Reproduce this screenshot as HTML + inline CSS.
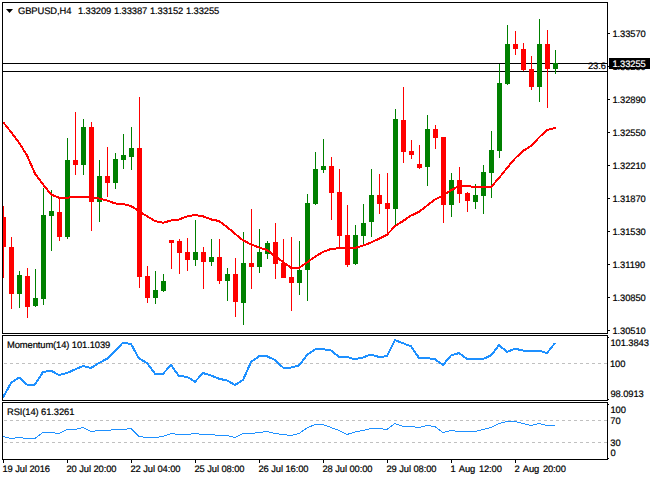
<!DOCTYPE html>
<html><head><meta charset="utf-8"><title>GBPUSD H4</title>
<style>
html,body{margin:0;padding:0;background:#fff;}
body{width:650px;height:480px;position:relative;overflow:hidden;font-family:"Liberation Sans",sans-serif;}
svg{position:absolute;left:0;top:0;}
.t{position:absolute;font-family:"Liberation Sans",sans-serif;font-size:9.4px;line-height:12px;white-space:pre;letter-spacing:-0.1px;text-rendering:geometricPrecision;-webkit-text-stroke:0.2px currentColor;}
</style></head><body>
<svg width="650" height="480" viewBox="0 0 650 480">
<line x1="4" x2="607" y1="363.5" y2="363.5" stroke="#c0c0c0" stroke-width="1" stroke-dasharray="3 3" shape-rendering="crispEdges"/>
<line x1="4" x2="607" y1="420.5" y2="420.5" stroke="#c0c0c0" stroke-width="1" stroke-dasharray="3 3" shape-rendering="crispEdges"/>
<line x1="4" x2="607" y1="442.5" y2="442.5" stroke="#c0c0c0" stroke-width="1" stroke-dasharray="3 3" shape-rendering="crispEdges"/>
<g shape-rendering="crispEdges" fill="#000">
<rect x="3" y="63" width="605" height="1"/>
<rect x="3" y="71" width="605" height="1"/>
</g>
<defs><clipPath id="c"><rect x="3" y="3" width="604" height="330"/></clipPath></defs>
<g shape-rendering="crispEdges" clip-path="url(#c)">
<rect x="3" y="206" width="1" height="72" fill="#ff0000"/>
<rect x="1" y="217" width="5" height="30" fill="#ff0000"/>
<rect x="11" y="237" width="1" height="72" fill="#ff0000"/>
<rect x="9" y="247" width="5" height="47" fill="#ff0000"/>
<rect x="19" y="271" width="1" height="37" fill="#008000"/>
<rect x="17" y="275" width="5" height="19" fill="#008000"/>
<rect x="27" y="268" width="1" height="50" fill="#ff0000"/>
<rect x="25" y="276" width="5" height="31" fill="#ff0000"/>
<rect x="35" y="269" width="1" height="38" fill="#008000"/>
<rect x="33" y="298" width="5" height="8" fill="#008000"/>
<rect x="43" y="188" width="1" height="117" fill="#008000"/>
<rect x="41" y="215" width="5" height="84" fill="#008000"/>
<rect x="51" y="190" width="1" height="61" fill="#008000"/>
<rect x="49" y="211" width="5" height="5" fill="#008000"/>
<rect x="59" y="198" width="1" height="43" fill="#ff0000"/>
<rect x="57" y="212" width="5" height="25" fill="#ff0000"/>
<rect x="67" y="138" width="1" height="101" fill="#008000"/>
<rect x="65" y="160" width="5" height="77" fill="#008000"/>
<rect x="75" y="112" width="1" height="63" fill="#ff0000"/>
<rect x="73" y="160" width="5" height="5" fill="#ff0000"/>
<rect x="83" y="119" width="1" height="56" fill="#008000"/>
<rect x="81" y="127" width="5" height="38" fill="#008000"/>
<rect x="91" y="122" width="1" height="109" fill="#ff0000"/>
<rect x="89" y="127" width="5" height="75" fill="#ff0000"/>
<rect x="99" y="160" width="1" height="62" fill="#008000"/>
<rect x="97" y="176" width="5" height="26" fill="#008000"/>
<rect x="107" y="147" width="1" height="50" fill="#ff0000"/>
<rect x="105" y="176" width="5" height="7" fill="#ff0000"/>
<rect x="115" y="153" width="1" height="36" fill="#008000"/>
<rect x="113" y="159" width="5" height="24" fill="#008000"/>
<rect x="123" y="134" width="1" height="35" fill="#008000"/>
<rect x="121" y="155" width="5" height="5" fill="#008000"/>
<rect x="131" y="127" width="1" height="43" fill="#008000"/>
<rect x="129" y="148" width="5" height="9" fill="#008000"/>
<rect x="139" y="97" width="1" height="191" fill="#ff0000"/>
<rect x="137" y="148" width="5" height="129" fill="#ff0000"/>
<rect x="147" y="266" width="1" height="37" fill="#ff0000"/>
<rect x="145" y="276" width="5" height="22" fill="#ff0000"/>
<rect x="155" y="271" width="1" height="33" fill="#008000"/>
<rect x="153" y="290" width="5" height="8" fill="#008000"/>
<rect x="163" y="274" width="1" height="18" fill="#008000"/>
<rect x="161" y="281" width="5" height="10" fill="#008000"/>
<rect x="171" y="240" width="1" height="29" fill="#ff0000"/>
<rect x="169" y="240" width="5" height="3" fill="#ff0000"/>
<rect x="179" y="239" width="1" height="35" fill="#ff0000"/>
<rect x="177" y="241" width="5" height="12" fill="#ff0000"/>
<rect x="187" y="238" width="1" height="33" fill="#ff0000"/>
<rect x="185" y="252" width="5" height="8" fill="#ff0000"/>
<rect x="195" y="220" width="1" height="46" fill="#008000"/>
<rect x="193" y="252" width="5" height="8" fill="#008000"/>
<rect x="203" y="247" width="1" height="42" fill="#ff0000"/>
<rect x="201" y="252" width="5" height="10" fill="#ff0000"/>
<rect x="211" y="239" width="1" height="27" fill="#008000"/>
<rect x="209" y="257" width="5" height="5" fill="#008000"/>
<rect x="219" y="239" width="1" height="45" fill="#ff0000"/>
<rect x="217" y="257" width="5" height="24" fill="#ff0000"/>
<rect x="227" y="268" width="1" height="33" fill="#008000"/>
<rect x="225" y="274" width="5" height="7" fill="#008000"/>
<rect x="235" y="258" width="1" height="59" fill="#ff0000"/>
<rect x="233" y="274" width="5" height="28" fill="#ff0000"/>
<rect x="243" y="232" width="1" height="93" fill="#008000"/>
<rect x="241" y="263" width="5" height="40" fill="#008000"/>
<rect x="251" y="209" width="1" height="80" fill="#ff0000"/>
<rect x="249" y="263" width="5" height="4" fill="#ff0000"/>
<rect x="259" y="229" width="1" height="44" fill="#008000"/>
<rect x="257" y="252" width="5" height="15" fill="#008000"/>
<rect x="267" y="241" width="1" height="18" fill="#008000"/>
<rect x="265" y="243" width="5" height="11" fill="#008000"/>
<rect x="275" y="223" width="1" height="56" fill="#ff0000"/>
<rect x="273" y="242" width="5" height="22" fill="#ff0000"/>
<rect x="283" y="239" width="1" height="39" fill="#ff0000"/>
<rect x="281" y="263" width="5" height="15" fill="#ff0000"/>
<rect x="291" y="237" width="1" height="74" fill="#ff0000"/>
<rect x="289" y="277" width="5" height="6" fill="#ff0000"/>
<rect x="299" y="241" width="1" height="54" fill="#008000"/>
<rect x="297" y="270" width="5" height="13" fill="#008000"/>
<rect x="307" y="194" width="1" height="107" fill="#008000"/>
<rect x="305" y="203" width="5" height="67" fill="#008000"/>
<rect x="315" y="152" width="1" height="53" fill="#008000"/>
<rect x="313" y="169" width="5" height="35" fill="#008000"/>
<rect x="323" y="139" width="1" height="34" fill="#008000"/>
<rect x="321" y="166" width="5" height="4" fill="#008000"/>
<rect x="331" y="157" width="1" height="63" fill="#ff0000"/>
<rect x="329" y="166" width="5" height="27" fill="#ff0000"/>
<rect x="339" y="169" width="1" height="78" fill="#ff0000"/>
<rect x="337" y="192" width="5" height="44" fill="#ff0000"/>
<rect x="347" y="205" width="1" height="62" fill="#ff0000"/>
<rect x="345" y="235" width="5" height="30" fill="#ff0000"/>
<rect x="355" y="225" width="1" height="40" fill="#008000"/>
<rect x="353" y="235" width="5" height="29" fill="#008000"/>
<rect x="363" y="204" width="1" height="41" fill="#008000"/>
<rect x="361" y="223" width="5" height="13" fill="#008000"/>
<rect x="371" y="169" width="1" height="68" fill="#008000"/>
<rect x="369" y="195" width="5" height="27" fill="#008000"/>
<rect x="379" y="174" width="1" height="40" fill="#ff0000"/>
<rect x="377" y="195" width="5" height="9" fill="#ff0000"/>
<rect x="387" y="173" width="1" height="60" fill="#ff0000"/>
<rect x="385" y="203" width="5" height="6" fill="#ff0000"/>
<rect x="395" y="109" width="1" height="117" fill="#008000"/>
<rect x="393" y="119" width="5" height="90" fill="#008000"/>
<rect x="403" y="87" width="1" height="76" fill="#ff0000"/>
<rect x="401" y="120" width="5" height="32" fill="#ff0000"/>
<rect x="411" y="140" width="1" height="19" fill="#ff0000"/>
<rect x="409" y="151" width="5" height="4" fill="#ff0000"/>
<rect x="419" y="145" width="1" height="24" fill="#ff0000"/>
<rect x="417" y="164" width="5" height="4" fill="#ff0000"/>
<rect x="427" y="115" width="1" height="71" fill="#008000"/>
<rect x="425" y="129" width="5" height="38" fill="#008000"/>
<rect x="435" y="125" width="1" height="24" fill="#ff0000"/>
<rect x="433" y="129" width="5" height="9" fill="#ff0000"/>
<rect x="443" y="137" width="1" height="86" fill="#ff0000"/>
<rect x="441" y="137" width="5" height="68" fill="#ff0000"/>
<rect x="451" y="173" width="1" height="44" fill="#008000"/>
<rect x="449" y="180" width="5" height="25" fill="#008000"/>
<rect x="459" y="167" width="1" height="36" fill="#ff0000"/>
<rect x="457" y="180" width="5" height="14" fill="#ff0000"/>
<rect x="467" y="192" width="1" height="20" fill="#ff0000"/>
<rect x="465" y="193" width="5" height="8" fill="#ff0000"/>
<rect x="475" y="184" width="1" height="25" fill="#008000"/>
<rect x="473" y="195" width="5" height="7" fill="#008000"/>
<rect x="483" y="165" width="1" height="49" fill="#008000"/>
<rect x="481" y="172" width="5" height="24" fill="#008000"/>
<rect x="491" y="131" width="1" height="67" fill="#008000"/>
<rect x="489" y="150" width="5" height="23" fill="#008000"/>
<rect x="499" y="64" width="1" height="94" fill="#008000"/>
<rect x="497" y="83" width="5" height="68" fill="#008000"/>
<rect x="507" y="25" width="1" height="60" fill="#008000"/>
<rect x="505" y="44" width="5" height="40" fill="#008000"/>
<rect x="515" y="31" width="1" height="24" fill="#ff0000"/>
<rect x="513" y="44" width="5" height="5" fill="#ff0000"/>
<rect x="523" y="43" width="1" height="28" fill="#ff0000"/>
<rect x="521" y="49" width="5" height="21" fill="#ff0000"/>
<rect x="531" y="56" width="1" height="34" fill="#ff0000"/>
<rect x="529" y="69" width="5" height="18" fill="#ff0000"/>
<rect x="539" y="19" width="1" height="83" fill="#008000"/>
<rect x="537" y="44" width="5" height="43" fill="#008000"/>
<rect x="547" y="30" width="1" height="78" fill="#ff0000"/>
<rect x="545" y="44" width="5" height="25" fill="#ff0000"/>
<rect x="555" y="50" width="1" height="24" fill="#008000"/>
<rect x="553" y="63" width="5" height="6" fill="#008000"/>
</g>
<polyline points="3,122 11,132 19,142.5 27,155.5 35,173.5 43,184.4 51,194.4 59,197.75 67,197.75 75,196.9 83,196.9 91,197.25 99,198.5 107,200.4 115,203.4 123,204 131,206 139,211.25 147,216.25 155,221 163,222.75 171,220.5 179,219.5 187,216.5 195,215 203,216.25 211,219.4 219,221 227,226.9 235,233.75 243,240.3 251,244.4 259,247.5 267,250 275,256.25 283,261.9 291,267.75 299,267.75 307,262.5 315,256.7 323,251.9 331,249 339,248.25 347,248 355,248 363,245.6 371,242.5 379,238.75 387,234.7 395,226.25 403,221 411,215.6 419,211.9 427,205.6 435,199.4 443,195.6 451,190.3 459,186 467,186 475,187 483,187 491,187 499,178 507,168 515,158.5 523,151 531,146 539,137.5 547,130 556,127.75" fill="none" stroke="#ff0000" stroke-width="2" stroke-linejoin="round" shape-rendering="crispEdges"/>
<polyline points="3,397.5 11,383 19,377.5 27,384.5 35,384.5 43,372 51,370.75 59,375 67,373 75,369.5 83,366 91,368 99,363 107,358.75 115,351 123,342.5 131,344 139,358.5 147,363 155,373.75 163,373.75 171,365 179,376 187,376.75 195,381.75 203,373 211,375.5 219,378.75 227,380.5 235,385 243,380 251,362 259,356.25 267,356.25 275,360 283,367.5 291,367.5 299,365.5 307,355 315,349.5 323,349.25 331,350.5 339,357 347,357 355,359.25 363,357.5 371,354.5 379,357 387,356.25 395,340 403,343.25 411,346.25 419,358 427,358 435,359.25 443,365 451,355.5 459,353 467,359 475,359 483,359 491,355.5 499,345 507,352 515,348.75 523,350.5 531,350.75 539,350.75 547,353 555,343" fill="none" stroke="#1e90ff" stroke-width="2" stroke-linejoin="round" shape-rendering="crispEdges"/>
<polyline points="3,436.5 11,438.5 19,437.5 27,438.5 35,438.5 43,432.5 51,432.5 59,433.5 67,429.5 75,429.5 83,427.5 91,431.5 99,430.5 107,430.5 115,429.5 123,429.5 131,428.5 139,436.5 147,437.5 155,437.5 163,436.5 171,433.5 179,434.5 187,434.5 195,433.5 203,434.5 211,434.5 219,435.5 227,435.5 235,437.5 243,433.5 251,433.5 259,432.5 267,431.5 275,433.5 283,434.5 291,435.5 299,433.5 307,428 315,424.5 323,424.5 331,427.5 339,430.5 347,434.5 355,432 363,430.5 371,428.5 379,428.5 387,429.5 395,423.5 403,426.5 411,426.5 419,427.5 427,425.5 435,426.5 443,432.5 451,430.5 459,431.5 467,431.5 475,431.5 483,429.5 491,427.5 499,423.5 507,421.5 515,421.5 523,423.5 531,425.5 539,423.5 547,425.5 555,425.5" fill="none" stroke="#1e90ff" stroke-width="1" shape-rendering="crispEdges"/>
<g shape-rendering="crispEdges" fill="#000">
<rect x="2" y="2" width="1" height="332"/>
<rect x="607" y="2" width="1" height="332"/>
<rect x="2" y="335" width="1" height="66"/>
<rect x="607" y="335" width="1" height="66"/>
<rect x="2" y="402" width="1" height="58"/>
<rect x="607" y="402" width="1" height="58"/>
<rect x="2" y="2" width="606" height="1"/>
<rect x="2" y="333" width="606" height="1"/>
<rect x="2" y="335" width="606" height="1"/>
<rect x="2" y="400" width="606" height="1"/>
<rect x="2" y="402" width="606" height="1"/>
<rect x="2" y="459" width="606" height="1"/>
<rect x="608" y="33" width="2" height="1"/>
<rect x="608" y="66" width="2" height="1"/>
<rect x="608" y="99" width="2" height="1"/>
<rect x="608" y="132" width="2" height="1"/>
<rect x="608" y="165" width="2" height="1"/>
<rect x="608" y="198" width="2" height="1"/>
<rect x="608" y="231" width="2" height="1"/>
<rect x="608" y="264" width="2" height="1"/>
<rect x="608" y="297" width="2" height="1"/>
<rect x="608" y="330" width="2" height="1"/>
<rect x="608" y="337" width="1" height="1"/>
<rect x="608" y="399" width="1" height="1"/>
<rect x="608" y="404" width="1" height="1"/>
<rect x="608" y="458" width="1" height="1"/>
<rect x="3" y="460" width="1" height="3"/>
<rect x="67" y="460" width="1" height="3"/>
<rect x="131" y="460" width="1" height="3"/>
<rect x="195" y="460" width="1" height="3"/>
<rect x="259" y="460" width="1" height="3"/>
<rect x="323" y="460" width="1" height="3"/>
<rect x="387" y="460" width="1" height="3"/>
<rect x="451" y="460" width="1" height="3"/>
<rect x="515" y="460" width="1" height="3"/>
<rect x="609" y="58" width="41" height="11"/>
</g>
<polygon points="6,9 13,9 9.5,13" fill="#000"/>
</svg>
<div class="t" style="left:18px;top:5.00px;color:#000;">GBPUSD,H4</div>
<div class="t" style="left:78px;top:5.00px;color:#000;">1.33209</div>
<div class="t" style="left:114px;top:5.00px;color:#000;">1.33387</div>
<div class="t" style="left:150px;top:5.00px;color:#000;">1.33152</div>
<div class="t" style="left:186px;top:5.00px;color:#000;">1.33255</div>
<div class="t" style="left:612.5px;top:28.00px;color:#000;">1.33570</div>
<div class="t" style="left:612.5px;top:94.00px;color:#000;">1.32890</div>
<div class="t" style="left:612.5px;top:127.00px;color:#000;">1.32550</div>
<div class="t" style="left:612.5px;top:160.00px;color:#000;">1.32210</div>
<div class="t" style="left:612.5px;top:193.00px;color:#000;">1.31870</div>
<div class="t" style="left:612.5px;top:226.00px;color:#000;">1.31530</div>
<div class="t" style="left:612.5px;top:259.00px;color:#000;">1.31190</div>
<div class="t" style="left:612.5px;top:292.00px;color:#000;">1.30850</div>
<div class="t" style="left:612.5px;top:325.00px;color:#000;">1.30510</div>
<div class="t" style="left:612.5px;top:58.00px;color:#fff;">1.33255</div>
<div class="t" style="left:588px;top:60.00px;color:#000;">23.6</div>
<div style="position:absolute;left:611px;top:69px;width:39px;height:2px;overflow:hidden"><div class="t" style="left:1.5px;top:-8.00px">1.33230</div></div>
<div class="t" style="left:610.5px;top:337.00px;color:#000;">101.3843</div>
<div class="t" style="left:610px;top:358.00px;color:#000;">100</div>
<div class="t" style="left:610.5px;top:388.00px;color:#000;">98.0913</div>
<div class="t" style="left:610.5px;top:404.00px;color:#000;">100</div>
<div class="t" style="left:610.3px;top:415.00px;color:#000;">70</div>
<div class="t" style="left:610.3px;top:437.00px;color:#000;">30</div>
<div class="t" style="left:610.5px;top:447.00px;color:#000;">0</div>
<div class="t" style="left:7px;top:339.00px;color:#000;">Momentum(14) 101.1039</div>
<div class="t" style="left:7px;top:406.00px;color:#000;">RSI(14) 61.3261</div>
<div class="t" style="left:2.5px;top:463.00px;color:#000;">19 Jul 2016</div>
<div class="t" style="left:66.5px;top:463.00px;color:#000;">20 Jul 20:00</div>
<div class="t" style="left:130.5px;top:463.00px;color:#000;">22 Jul 04:00</div>
<div class="t" style="left:194.5px;top:463.00px;color:#000;">25 Jul 08:00</div>
<div class="t" style="left:258.5px;top:463.00px;color:#000;">26 Jul 16:00</div>
<div class="t" style="left:322.5px;top:463.00px;color:#000;">28 Jul 00:00</div>
<div class="t" style="left:386.5px;top:463.00px;color:#000;">29 Jul 08:00</div>
<div class="t" style="left:450.5px;top:463.00px;color:#000;word-spacing:1.2px;">1 Aug 12:00</div>
<div class="t" style="left:514.5px;top:463.00px;color:#000;word-spacing:1.2px;">2 Aug 20:00</div>
</body></html>
